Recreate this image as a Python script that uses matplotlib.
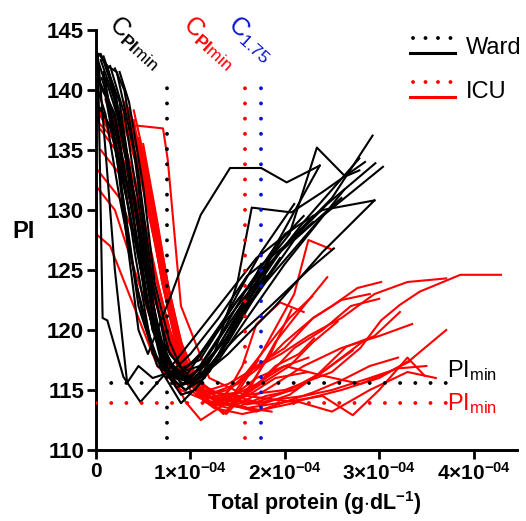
import matplotlib

matplotlib.use("Agg")

import matplotlib.pyplot as plt
from matplotlib.legend_handler import HandlerBase
from matplotlib.lines import Line2D

plt.rcParams["font.family"] = ["Liberation Sans", "DejaVu Sans"]
plt.rcParams["mathtext.fontset"] = "custom"
plt.rcParams["mathtext.rm"] = "Liberation Sans"
plt.rcParams["mathtext.it"] = "Liberation Sans:italic"
plt.rcParams["mathtext.bf"] = "Liberation Sans:bold"

# protein concentration in units of 1e-4 g/dL, PI per measurement
WARD_X = [
    [0.02, 0.1, 0.25, 0.45, 0.65, 0.85, 1.1, 1.5, 2.0, 2.5, 2.93],
    [0.05, 0.15, 0.32, 0.52, 0.72, 0.92, 1.25, 1.7, 2.2, 2.79],
    [0.0, 0.1, 0.25, 0.42, 0.62, 0.82, 1.05, 1.45, 1.95, 2.45, 2.96],
    [0.12, 0.22, 0.4, 0.58, 0.78, 1.0, 1.35, 1.8, 2.4, 3.04],
    [0.05, 0.2, 0.38, 0.58, 0.78, 1.02, 1.4, 1.9, 2.4, 2.95],
    [0.08, 0.18, 0.32, 0.45, 0.55, 0.8, 1.11, 1.42, 1.75, 2.02, 2.37],
    [0.15, 0.25, 0.4, 0.55, 0.72, 0.92, 1.2, 1.5, 1.8, 2.05, 2.34, 2.64, 2.79],
    [0.02, 0.07, 0.12, 0.29, 0.47, 0.56, 0.75, 1.0, 1.3, 1.7, 2.1],
    [0.03, 0.09, 0.2, 0.33, 0.45, 0.6, 0.8, 1.0, 1.3, 1.6, 2.0],
    [0.1, 0.3, 0.5, 0.68, 0.85, 1.0, 1.2, 1.45, 1.7, 2.0, 2.3],
    [0.05, 0.25, 0.45, 0.62, 0.8, 0.95, 1.2, 1.5, 1.85, 2.25, 2.52],
    [0.1, 0.25, 0.42, 0.6, 0.8, 1.0, 1.3, 1.6, 2.0, 2.63],
    [0.2, 0.3, 0.45, 0.6, 0.75, 0.9, 1.1, 1.4, 1.7, 2.0, 2.4, 2.95],
    [0.0, 0.15, 0.35, 0.55, 0.7, 0.9, 1.05, 1.3, 1.6, 1.95],
    [0.05, 0.2, 0.4, 0.6, 0.75, 0.9, 1.1, 1.35, 1.6, 1.9, 2.2],
    [0.08, 0.2, 0.35, 0.55, 0.7, 0.9, 1.1, 1.3, 1.5, 1.75, 2.1],
    [0.03, 0.12, 0.3, 0.5, 0.68, 0.85, 1.1, 1.4, 1.7, 2.1, 2.6],
    [0.0, 0.1, 0.25, 0.5, 0.7, 0.9, 1.1, 1.3, 1.52, 1.8],
    [0.25, 0.35, 0.5, 0.62, 0.78, 0.95, 1.15, 1.4, 1.65, 1.95, 2.3],
    [0.15, 0.3, 0.48, 0.65, 0.82, 1.0, 1.2, 1.5, 1.9, 2.37],
    [0.06, 0.2, 0.4, 0.6, 0.78, 0.95, 1.15, 1.35, 1.55, 1.75],
    [0.1, 0.22, 0.4, 0.6, 0.8, 1.0, 1.25, 1.5, 1.65, 2.07, 2.4, 2.85],
]
WARD_PI = [
    [142.5, 140.5, 133, 122, 117, 116, 118, 122.5, 127, 131, 136.2],
    [143, 141, 134, 122.5, 117, 115.5, 118, 124, 129, 134.3],
    [141, 139.5, 133, 124, 118, 116, 117.5, 121.5, 126.5, 130.5, 133.9],
    [142, 141.5, 135, 124, 118, 116, 119, 124, 129.5, 133.6],
    [140.5, 138, 130, 121, 117, 115.5, 118, 122, 126.5, 130.8],
    [141.5, 137, 128, 120, 118, 123, 129.6, 133.5, 133.5, 132.3, 133.7],
    [141, 139, 131, 122, 117, 115.8, 119, 122.5, 125.5, 128, 135.2, 132.8, 133.3],
    [143, 121, 120.8, 116.1, 114.0, 114.8, 116.5, 119, 122, 126, 128.5],
    [142, 136, 125, 115.6, 117, 116, 116.5, 118, 121, 124.5, 127],
    [141, 136, 127, 119, 116.5, 116, 118, 121, 124, 127, 129.5],
    [142.5, 138, 129, 120, 116, 115, 117, 119.5, 122, 125, 126.8],
    [140, 135, 126, 118, 116, 115.8, 117.5, 121, 125.5, 131.7],
    [141.8, 140, 133, 124, 118, 115.5, 116, 120, 124, 128, 130, 130.8],
    [139, 137, 130, 122, 117, 114.6, 115, 118, 122, 126],
    [138.5, 136, 128, 120, 117.5, 116.5, 117, 120, 123.5, 127, 129.5],
    [142.8, 140, 133, 124, 119, 116.8, 117.5, 120, 123, 126.5, 130.5],
    [143, 142, 136, 126, 118, 115.2, 116, 119, 123, 127.5, 131],
    [140.5, 138, 131, 121, 116.5, 113.9, 115.5, 118, 121.5, 124.5],
    [141.5, 139, 132, 124, 119, 116, 117, 119.5, 123, 126.5, 129],
    [142, 138, 129, 120, 116.5, 115.5, 116.5, 120.5, 127, 133.7],
    [141, 137.5, 129, 120, 116, 115, 116, 118.5, 122, 125.5],
    [142, 139, 131, 121, 117, 115.6, 118, 124, 130.2, 129.8, 131.5, 134],
]

ICU_X = [
    [0.0, 0.3, 0.55, 0.8, 1.1, 1.5, 2.0, 2.5, 2.8, 3.02, 3.22, 3.43, 3.86, 4.29],
    [0.2, 0.35, 0.71, 0.76, 0.9, 1.2, 1.6, 2.1, 2.6, 3.0, 3.33, 3.71],
    [0.3, 0.5, 0.7, 0.9, 1.1, 1.4, 1.7, 2.0, 2.3, 2.5, 2.77, 3.02],
    [0.0, 0.2, 0.45, 0.7, 0.95, 1.11, 1.4, 1.75, 2.1, 2.25, 2.5],
    [0.05, 0.3, 0.55, 0.8, 1.0, 1.3, 1.6, 2.0, 2.4, 2.72, 3.0, 3.3, 3.48],
    [0.0, 0.15, 0.4, 0.65, 0.9, 1.2, 1.5, 1.8, 2.2, 2.6, 3.0, 3.35],
    [0.35, 0.55, 0.75, 0.95, 1.15, 1.4, 1.65, 1.9, 2.15, 2.31],
    [0.4, 0.55, 0.7, 0.9, 1.1, 1.35, 1.6, 1.85, 2.07],
    [0.25, 0.45, 0.65, 0.85, 1.05, 1.3, 1.55, 1.8, 2.05, 2.29],
    [0.1, 0.3, 0.5, 0.72, 0.92, 1.15, 1.45, 1.75, 2.05, 2.3, 2.56],
    [0.3, 0.5, 0.68, 0.88, 1.1, 1.4, 1.7, 2.0, 2.4, 2.82],
    [0.45, 0.6, 0.78, 0.95, 1.2, 1.5, 1.8, 2.1, 2.4, 2.72],
    [0.35, 0.5, 0.7, 0.9, 1.1, 1.35, 1.6, 1.9, 2.2, 2.5, 2.9, 3.2, 3.5],
    [0.0, 0.25, 0.5, 0.75, 1.0, 1.25, 1.55, 1.85, 2.15, 2.5, 2.9, 3.3, 3.6],
    [0.2, 0.4, 0.6, 0.82, 1.05, 1.3, 1.6, 1.86],
    [0.3, 0.45, 0.65, 0.85, 1.05, 1.25, 1.5, 1.75, 2.0, 2.3, 2.6, 2.9],
    [0.15, 0.35, 0.55, 0.78, 1.0, 1.3, 1.6, 1.9, 2.25],
    [0.4, 0.55, 0.72, 0.9, 1.1, 1.3, 1.55, 1.8, 2.1, 2.4, 2.7, 3.0],
    [0.05, 0.25, 0.5, 0.7, 0.95, 1.2, 1.45, 1.7, 2.0, 2.4, 2.8, 3.1, 3.33],
    [0.3, 0.5, 0.7, 0.92, 1.15, 1.4, 1.7, 2.0, 2.3, 2.6, 2.9, 3.2],
    [0.25, 0.45, 0.62, 0.8, 1.0, 1.25, 1.5, 1.72],
    [0.4, 0.55, 0.75, 0.95, 1.15, 1.35, 1.55, 1.7, 1.95, 2.2],
    [0.5, 0.65, 0.82, 1.0, 1.2, 1.45, 1.7, 2.0, 2.25],
    [0.0, 0.2, 0.4, 0.65, 0.9, 1.15, 1.45, 1.75, 2.05, 2.35, 2.65, 2.95, 3.22],
    [0.35, 0.52, 0.72, 0.92, 1.12, 1.4, 1.68, 1.96, 2.25, 2.6, 2.95, 3.3, 3.71],
    [0.02, 0.18, 0.42, 0.64, 0.86, 1.1, 1.38, 1.62, 1.9, 2.15, 2.45],
]
ICU_PI = [
    [137.5, 135, 126, 118, 115, 114.5, 115, 116.5, 118.5, 120.8, 122.1, 123.2, 124.6, 124.6],
    [138.8, 137.1, 136.8, 134.2, 122, 116, 114.5, 114, 115, 116, 117.5, 120],
    [139, 133, 124, 117, 114.5, 115, 117, 118.5, 121, 122, 123.5, 124],
    [132, 130, 124, 118, 114, 112.5, 114, 118, 123, 127.5, 126.7],
    [136.7, 134, 127, 119, 115.5, 114, 113.5, 114, 114.5, 112.9, 115, 117.7, 116.2],
    [128, 127, 122, 117, 115, 114, 113.8, 115, 117, 118.5, 119.5, 120.5],
    [138, 132, 123, 116.5, 114, 113.5, 115, 117, 118, 119.3],
    [137.5, 131, 124, 117, 114.8, 113, 115, 118, 121.7],
    [136.5, 131, 124, 118, 115, 114.2, 116, 118.5, 121, 122.8],
    [139.2, 135, 128, 120, 116, 114.5, 114, 115.5, 117, 119, 120.7],
    [137, 132, 125, 118, 115, 114.6, 114, 114.8, 116.5, 119],
    [136, 131, 123, 117, 114, 113.6, 114.5, 115, 116.5, 118.3],
    [138.5, 134, 126, 119, 115.5, 114.5, 113.8, 114.2, 114.5, 115, 116, 116.8, 117],
    [133.5, 131, 126, 119, 115, 113.5, 113, 113.5, 114, 113.2, 115, 116.5, 116],
    [137.8, 133, 126, 118, 115, 114, 113.5, 113.2],
    [139, 135, 127, 119, 116, 114.8, 115.5, 117, 119, 121, 122.5, 123],
    [136.5, 133, 127, 120, 116, 113.8, 114.5, 116, 116.5],
    [138.3, 133, 125, 118.5, 115, 114, 114.5, 116, 118.5, 120, 122, 122.6],
    [135, 133, 128, 121, 116.5, 114.3, 114.5, 116, 117, 116.2, 115.5, 116.5, 117.4],
    [137.5, 132.5, 124.5, 117.5, 114.5, 113.8, 113.2, 114, 114.8, 115.8, 117, 117.7],
    [138.5, 134, 128, 121, 116.5, 114.5, 114.8, 117.5],
    [137, 132, 124, 117.5, 115, 114.2, 117, 120.5, 122.3, 121.5],
    [135.5, 129, 121, 115.5, 113.8, 114.5, 115.5, 117, 117.7],
    [139, 135.5, 130, 122, 116.5, 114, 114.2, 113.8, 114.6, 116.3, 118.6, 119.5, 121.5],
    [136.8, 131, 124, 117, 114.8, 115.5, 116.8, 118, 119.5, 121, 123, 124, 124.3],
    [138.2, 136, 130, 123, 117, 114.5, 113, 115, 119, 121.5, 124.4],
]

PI_MIN_WARD = 115.6
PI_MIN_ICU = 113.9
C_PIMIN_WARD = 0.75e-4
C_PIMIN_ICU = 1.58e-4
C_175 = 1.75e-4
VLINE_SPAN = (111.0, 141.2)
HLINE_END = 3.72e-4

X_TICKS = [0, 1e-4, 2e-4, 3e-4, 4e-4]
X_TICK_LABELS = ["0"] + [f"{k}\u00d710$^{{\\mathbf{{-04}}}}$" for k in (1, 2, 3, 4)]
Y_TICKS = [110, 115, 120, 125, 130, 135, 140, 145]

WARD_COLOR = "#000000"
ICU_COLOR = "#ff0000"
C175_COLOR = "#0a14d2"
DOTS = (0, (0.01, 3.9))


class StackedHandler(HandlerBase):
    """Legend key: dotted line above a solid line of the same colour."""

    def create_artists(self, legend, orig_handle, xdescent, ydescent, width, height, fontsize, trans):
        color = orig_handle.get_color()
        x0, x1 = -xdescent, -xdescent + width
        dotted = Line2D([x0 + 2.5, x1 - 1.5], [11.5, 11.5], color=color, lw=2.8,
                        linestyle=(0, (0.01, 3.2)), dash_capstyle="round", transform=trans)
        solid = Line2D([x0, x1], [0.8, 0.8], color=color, lw=2.2, transform=trans)
        return [dotted, solid]


fig = plt.figure(figsize=(5.26, 5.21), dpi=100)
ax = fig.add_axes([96 / 526, 1 - 450 / 521, 421 / 526, 420 / 521])

for xs, ys in zip(ICU_X, ICU_PI):
    ax.plot([x * 1e-4 for x in xs], ys, color=ICU_COLOR, lw=1.5, zorder=2)
for xs, ys in zip(WARD_X, WARD_PI):
    ax.plot([x * 1e-4 for x in xs], ys, color=WARD_COLOR, lw=1.5, zorder=3)

ref_style = dict(lw=2.8, linestyle=DOTS, dash_capstyle="round", zorder=5)
ax.plot([C_PIMIN_WARD] * 2, VLINE_SPAN, color=WARD_COLOR, **ref_style)
ax.plot([C_PIMIN_ICU] * 2, VLINE_SPAN, color=ICU_COLOR, **ref_style)
ax.plot([C_175] * 2, VLINE_SPAN, color=C175_COLOR, **ref_style)
ax.plot([0, HLINE_END], [PI_MIN_WARD] * 2, color=WARD_COLOR, **ref_style)
ax.plot([0, HLINE_END], [PI_MIN_ICU] * 2, color=ICU_COLOR, **ref_style)

ax.text(HLINE_END, PI_MIN_WARD, r"PI$_{\mathrm{min}}$", color=WARD_COLOR,
        fontsize=17, ha="left", va="bottom")
ax.text(HLINE_END, PI_MIN_ICU, r"PI$_{\mathrm{min}}$", color=ICU_COLOR,
        fontsize=17, ha="left", va="center")

ax.set_xlim(0, 4.46e-4)
ax.set_ylim(110, 145)
ax.set_xticks(X_TICKS)
ax.set_xticklabels(X_TICK_LABELS, fontweight="bold")
ax.set_yticks(Y_TICKS)
ax.tick_params(axis="both", direction="out", length=6.5, width=2.0, pad=2)
ax.tick_params(axis="x", labelsize=15)
ax.tick_params(axis="y", labelsize=16)
for label in ax.get_yticklabels():
    label.set_fontweight("bold")
for side in ("top", "right"):
    ax.spines[side].set_visible(False)
for side in ("left", "bottom"):
    ax.spines[side].set_linewidth(2.1)

ax.set_ylabel("PI", fontsize=17, fontweight="bold", rotation=0)
ax.yaxis.set_label_coords(-0.173, 0.493)
ax.set_xlabel(r"Total protein (g$\cdot$dL$^{\mathbf{-1}}$)", fontsize=15.5, fontweight="bold")
ax.xaxis.set_label_coords(0.518, -0.093)

fig.text(103 / 526, 1 - 12 / 521, r"C$_{\mathbf{PI}\mathrm{min}}$", color=WARD_COLOR,
         fontsize=18, rotation=-42, ha="left", va="top")
fig.text(177 / 526, 1 - 12 / 521, r"C$_{\mathbf{PI}\mathrm{min}}$", color=ICU_COLOR,
         fontsize=18, rotation=-42, ha="left", va="top")
fig.text(222 / 526, 1 - 12 / 521, r"C$_{1.75}$", color=C175_COLOR,
         fontsize=18, rotation=-42, ha="left", va="top")

handles = [Line2D([], [], color=WARD_COLOR, label="Ward"), Line2D([], [], color=ICU_COLOR, label="ICU")]
fig.legend(handles=handles, loc="upper left", bbox_to_anchor=(410 / 526, 1 - 37 / 521),
           bbox_transform=fig.transFigure, frameon=False, borderpad=0, borderaxespad=0,
           fontsize=17, handlelength=1.9, handleheight=0.7, handletextpad=0.45,
           labelspacing=0.95, handler_map={Line2D: StackedHandler()})

fig.savefig("out.png", dpi=100)
